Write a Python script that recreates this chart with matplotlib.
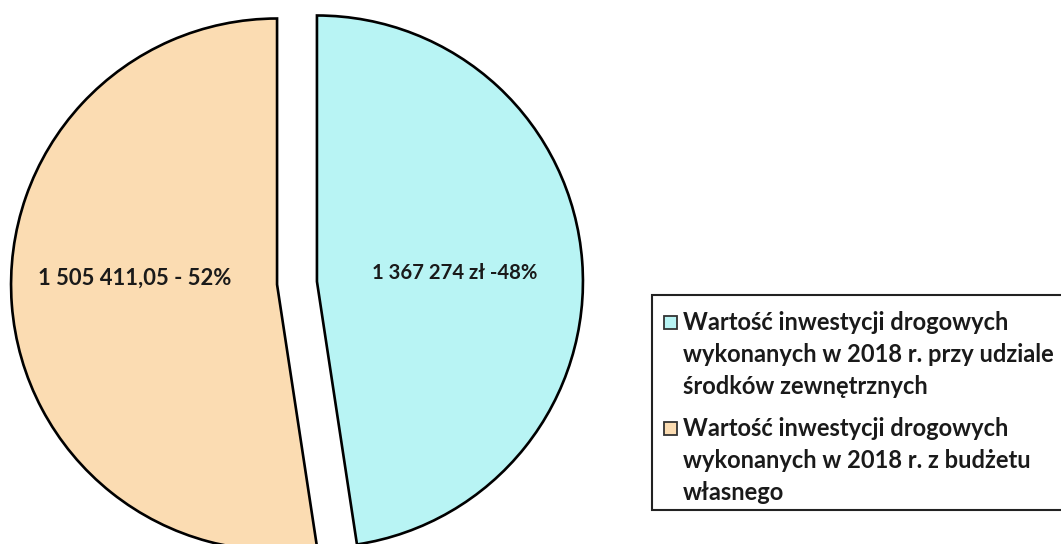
import matplotlib
matplotlib.use("Agg")
import matplotlib.pyplot as plt
from matplotlib.patches import Rectangle

# Data
categories = [
    "Wartość inwestycji drogowych\nwykonanych w 2018 r. przy udziale\nśrodków zewnętrznych",
    "Wartość inwestycji drogowych\nwykonanych w 2018 r. z budżetu\nwłasnego",
]
values = [1367274.00, 1505411.05]
value_labels = ["1 367 274 zł -48%", "1 505 411,05 - 52%"]
colors = ["#B8F4F4", "#FBDCB2"]

W, H = 1061, 544
fig = plt.figure(figsize=(W / 100, H / 100), dpi=100)
ax = fig.add_axes([0, 0, 1, 1])

def py(y):  # pixel-from-top to data y
    return H - y

center = (297, py(283))
radius = 266
ax.pie(values, colors=colors, startangle=90, counterclock=False,
       center=center, radius=radius, explode=[20, 20],
       wedgeprops=dict(edgecolor="black", linewidth=1.9),
       frame=True)
ax.set_xlim(0, W)
ax.set_ylim(0, H)
ax.set_aspect("equal")
ax.axis("off")

font = "Lato"
tc = "#1a1a1a"
ax.text(455, py(273), value_labels[0], ha="center", va="center",
        fontsize=14.6, fontweight="bold", color=tc, family=font)
ax.text(135, py(278), value_labels[1], ha="center", va="center",
        fontsize=15.8, fontweight="bold", color=tc, family=font)

# Legend (manual, top-aligned handles like the reference)
box = Rectangle((652, py(510)), 440, 215, facecolor="white", edgecolor="#222222",
                linewidth=1.5, clip_on=False)
ax.add_patch(box)
entry_tops = [322, 428]
line_gap = 32
for i, (cat, col) in enumerate(zip(categories, colors)):
    y0 = entry_tops[i]
    ax.add_patch(Rectangle((664, py(y0 + 7)), 13, 13, facecolor=col,
                           edgecolor="#333333", linewidth=1.3))
    for j, line in enumerate(cat.split("\n")):
        ax.text(683, py(y0 + j * line_gap), line, ha="left", va="center",
                fontsize=17, fontweight="bold", color=tc, family=font)

fig.savefig("out.png", dpi=100)
